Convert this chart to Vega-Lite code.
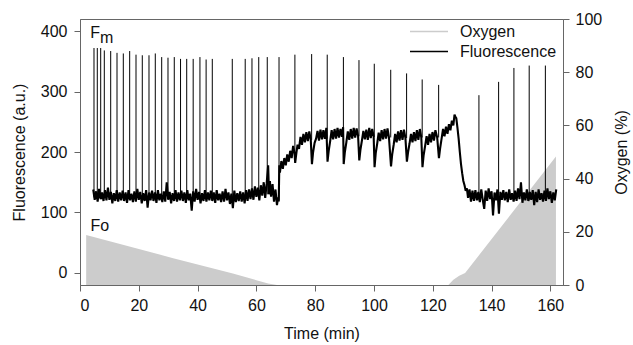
{
"$schema": "https://vega.github.io/schema/vega-lite/v6.json",
"width": 483, "height": 266,
"autosize": {"type": "none"},
"padding": {"left": 80, "top": 19, "right": 70, "bottom": 60},
"background": "white",
"config": {
  "view": {"stroke": "#666", "strokeWidth": 1},
  "font": "Liberation Sans",
  "axis": {"grid": false, "domainColor": "#666", "tickColor": "#666", "tickSize": 6, "labelFontSize": 16, "labelFont": "Liberation Sans", "labelColor": "#111", "titleFontSize": 16, "titleFont": "Liberation Sans", "titleFontWeight": "normal", "titleColor": "#111", "labelPadding": 6},
  "legend": {"orient": "none", "legendX": 341, "legendY": 4.5, "padding": 0, "symbolType": "M-3.8,0H3.8", "symbolSize": 100, "labelFontSize": 16, "labelFont": "Liberation Sans", "labelColor": "#111", "labelOffset": 23, "rowPadding": 4}
},
"datasets": {
  "oxygen": [
    {"t": 2.1, "o": 18.8}, {"t": 31.7, "o": 10.1}, {"t": 52, "o": 4.3}, {"t": 60, "o": 1.8}, {"t": 64, "o": 0.6}, {"t": 67, "o": 0},
    {"t": 125.3, "o": 0}, {"t": 127, "o": 2.0}, {"t": 129, "o": 3.5}, {"t": 131, "o": 4.5}, {"t": 161.9, "o": 48.3}
  ],
  "fluo": [
    {"t":4.5,"f":138},{"t":5.0,"f":121},{"t":5.5,"f":135},{"t":6.0,"f":118},{"t":6.5,"f":139},{"t":7.0,"f":122},{"t":7.5,"f":133},{"t":8.0,"f":119},{"t":8.5,"f":137},{"t":9.0,"f":120},
    {"t":9.5,"f":141},{"t":10.0,"f":121},{"t":10.5,"f":134},{"t":11.0,"f":115},{"t":11.5,"f":132},{"t":12.0,"f":119},{"t":12.5,"f":137},{"t":13.0,"f":118},{"t":13.5,"f":133},{"t":14.0,"f":120},
    {"t":14.5,"f":136},{"t":15.0,"f":119},{"t":15.5,"f":133},{"t":16.0,"f":116},{"t":16.5,"f":137},{"t":17.0,"f":120},{"t":17.5,"f":131},{"t":18.0,"f":117},{"t":18.5,"f":135},{"t":19.0,"f":118},
    {"t":19.5,"f":139},{"t":20.0,"f":121},{"t":20.5,"f":134},{"t":21.0,"f":115},{"t":21.5,"f":132},{"t":22.0,"f":119},{"t":22.5,"f":137},{"t":23.0,"f":108},{"t":23.5,"f":133},{"t":24.0,"f":120},
    {"t":24.5,"f":136},{"t":25.0,"f":119},{"t":25.5,"f":133},{"t":26.0,"f":116},{"t":26.5,"f":137},{"t":27.0,"f":120},{"t":27.5,"f":131},{"t":28.0,"f":117},{"t":28.5,"f":135},{"t":29.0,"f":118},
    {"t":29.5,"f":150},{"t":30.0,"f":121},{"t":30.5,"f":134},{"t":31.0,"f":115},{"t":31.5,"f":132},{"t":32.0,"f":119},{"t":32.5,"f":137},{"t":33.0,"f":118},{"t":33.5,"f":133},{"t":34.0,"f":120},
    {"t":34.5,"f":136},{"t":35.0,"f":119},{"t":35.5,"f":133},{"t":36.0,"f":116},{"t":36.5,"f":137},{"t":37.0,"f":120},{"t":37.5,"f":131},{"t":38.0,"f":103},{"t":38.5,"f":135},{"t":39.0,"f":118},
    {"t":39.5,"f":139},{"t":40.0,"f":121},{"t":40.5,"f":134},{"t":41.0,"f":115},{"t":41.5,"f":132},{"t":42.0,"f":119},{"t":42.5,"f":137},{"t":43.0,"f":118},{"t":43.5,"f":133},{"t":44.0,"f":120},
    {"t":44.5,"f":136},{"t":45.0,"f":119},{"t":45.5,"f":133},{"t":46.0,"f":116},{"t":46.5,"f":137},{"t":47.0,"f":120},{"t":47.5,"f":131},{"t":48.0,"f":117},{"t":48.5,"f":135},{"t":49.0,"f":118},
    {"t":49.5,"f":139},{"t":50.0,"f":120},{"t":50.5,"f":133},{"t":51.0,"f":114},{"t":51.5,"f":131},{"t":52.0,"f":107},{"t":52.5,"f":136},{"t":53.0,"f":117},{"t":53.5,"f":132},{"t":54.0,"f":119},
    {"t":54.5,"f":135},{"t":55.0,"f":118},{"t":55.5,"f":133},{"t":56.0,"f":115},{"t":56.5,"f":137},{"t":57.0,"f":119},{"t":57.5,"f":138},{"t":58.0,"f":122},{"t":58.5,"f":140},{"t":59.0,"f":121},
    {"t":59.5,"f":143},{"t":60.0,"f":126},{"t":60.5,"f":141},{"t":61.0,"f":120},{"t":61.5,"f":145},{"t":62.0,"f":128},{"t":62.5,"f":150},{"t":63.0,"f":124},{"t":63.5,"f":148},{"t":64.0,"f":178},
    {"t":64.3,"f":130},{"t":64.6,"f":152},{"t":65.0,"f":126},{"t":65.5,"f":147},{"t":66.0,"f":118},{"t":66.5,"f":138},{"t":67.0,"f":112},{"t":67.4,"f":125},{"t":67.6,"f":118},{"t":67.8,"f":178},
    {"t":68.0,"f":166},{"t":68.5,"f":185},{"t":69.0,"f":172},{"t":69.5,"f":190},{"t":70.0,"f":178},{"t":70.5,"f":196},{"t":71.0,"f":184},{"t":71.5,"f":202},{"t":72.0,"f":190},{"t":72.5,"f":210},
    {"t":73.0,"f":197},{"t":73.2,"f":182},{"t":73.6,"f":198},{"t":74.0,"f":212},{"t":74.5,"f":205},{"t":75.0,"f":225},{"t":75.5,"f":212},{"t":76.0,"f":230},{"t":76.5,"f":216},{"t":77.0,"f":233},
    {"t":77.5,"f":218},{"t":78.0,"f":234},{"t":78.5,"f":220},{"t":78.9,"f":180},{"t":79.3,"f":200},{"t":79.8,"f":215},{"t":80.3,"f":222},{"t":80.8,"f":235},{"t":81.3,"f":219},{"t":81.8,"f":237},
    {"t":82.3,"f":221},{"t":82.8,"f":236},{"t":83.3,"f":222},{"t":83.8,"f":240},{"t":84.2,"f":184},{"t":84.6,"f":202},{"t":85.1,"f":218},{"t":85.6,"f":236},{"t":86.1,"f":221},{"t":86.6,"f":238},
    {"t":87.1,"f":222},{"t":87.6,"f":240},{"t":88.1,"f":224},{"t":88.6,"f":238},{"t":89.1,"f":225},{"t":89.5,"f":241},{"t":89.7,"f":180},{"t":90.1,"f":200},{"t":90.6,"f":216},{"t":91.1,"f":234},
    {"t":91.6,"f":220},{"t":92.1,"f":238},{"t":92.6,"f":222},{"t":93.1,"f":240},{"t":93.6,"f":224},{"t":94.1,"f":239},{"t":94.6,"f":226},{"t":95.0,"f":186},{"t":95.4,"f":204},{"t":95.9,"f":219},
    {"t":96.4,"f":235},{"t":96.9,"f":221},{"t":97.4,"f":237},{"t":97.9,"f":220},{"t":98.4,"f":240},{"t":98.9,"f":223},{"t":99.4,"f":238},{"t":99.9,"f":225},{"t":100.2,"f":175},{"t":100.6,"f":198},
    {"t":101.1,"f":214},{"t":101.6,"f":232},{"t":102.1,"f":218},{"t":102.6,"f":236},{"t":103.1,"f":221},{"t":103.6,"f":238},{"t":104.1,"f":222},{"t":104.6,"f":239},{"t":105.1,"f":224},{"t":105.8,"f":176},
    {"t":106.2,"f":196},{"t":106.7,"f":212},{"t":107.2,"f":230},{"t":107.7,"f":216},{"t":108.2,"f":234},{"t":108.7,"f":219},{"t":109.2,"f":236},{"t":109.7,"f":220},{"t":110.2,"f":237},{"t":110.7,"f":223},
    {"t":111.2,"f":184},{"t":111.6,"f":200},{"t":112.1,"f":214},{"t":112.6,"f":230},{"t":113.1,"f":216},{"t":113.6,"f":233},{"t":114.1,"f":218},{"t":114.6,"f":236},{"t":115.1,"f":220},{"t":115.6,"f":238},
    {"t":116.1,"f":224},{"t":116.5,"f":175},{"t":116.9,"f":195},{"t":117.4,"f":210},{"t":117.9,"f":226},{"t":118.4,"f":212},{"t":118.9,"f":230},{"t":119.4,"f":216},{"t":119.9,"f":233},{"t":120.4,"f":219},
    {"t":120.9,"f":236},{"t":121.5,"f":224},{"t":122.1,"f":190},{"t":122.5,"f":206},{"t":123.0,"f":222},{"t":123.5,"f":238},{"t":124.0,"f":226},{"t":124.5,"f":242},{"t":125.0,"f":230},{"t":125.5,"f":246},
    {"t":126.0,"f":236},{"t":126.5,"f":252},{"t":127.0,"f":244},{"t":127.4,"f":262},{"t":127.7,"f":258},{"t":128.0,"f":256},{"t":128.4,"f":240},{"t":128.8,"f":222},{"t":129.2,"f":200},{"t":129.6,"f":180},
    {"t":130.0,"f":165},{"t":130.4,"f":152},{"t":130.8,"f":145},{"t":131.2,"f":136},{"t":131.6,"f":140},{"t":132.0,"f":124},{"t":132.5,"f":138},{"t":133.0,"f":118},{"t":133.5,"f":136},{"t":134.0,"f":119},
    {"t":134.5,"f":137},{"t":135.0,"f":120},{"t":135.5,"f":134},{"t":136.0,"f":117},{"t":136.5,"f":138},{"t":137.0,"f":121},{"t":137.5,"f":106},{"t":138.0,"f":136},{"t":138.5,"f":119},{"t":139.0,"f":140},
    {"t":139.5,"f":122},{"t":140.0,"f":135},{"t":140.5,"f":95},{"t":141.0,"f":133},{"t":141.5,"f":120},{"t":142.0,"f":138},{"t":142.5,"f":98},{"t":143.0,"f":134},{"t":143.5,"f":121},{"t":144.0,"f":137},
    {"t":144.5,"f":120},{"t":145.0,"f":134},{"t":145.5,"f":117},{"t":146.0,"f":138},{"t":146.5,"f":121},{"t":147.0,"f":132},{"t":147.5,"f":118},{"t":148.0,"f":136},{"t":148.5,"f":119},{"t":149.0,"f":140},
    {"t":149.5,"f":122},{"t":150.0,"f":150},{"t":150.5,"f":116},{"t":151.0,"f":133},{"t":151.5,"f":120},{"t":152.0,"f":138},{"t":152.5,"f":119},{"t":153.0,"f":134},{"t":153.5,"f":121},{"t":154.0,"f":137},
    {"t":154.5,"f":112},{"t":155.0,"f":134},{"t":155.5,"f":117},{"t":156.0,"f":138},{"t":156.5,"f":121},{"t":157.0,"f":132},{"t":157.5,"f":118},{"t":158.0,"f":136},{"t":158.5,"f":119},{"t":159.0,"f":140},
    {"t":159.5,"f":122},{"t":160.0,"f":135},{"t":160.5,"f":116},{"t":161.0,"f":133},{"t":161.5,"f":120},{"t":162.0,"f":138}
  ],
  "spikes": [
    {"t":4.76,"lo":125,"hi":372},{"t":5.88,"lo":125,"hi":372},{"t":7.04,"lo":125,"hi":372},{"t":8.27,"lo":125,"hi":368},{"t":10.44,"lo":125,"hi":367},
    {"t":12.59,"lo":125,"hi":364},{"t":14.73,"lo":125,"hi":363},{"t":16.9,"lo":125,"hi":367},{"t":19.05,"lo":125,"hi":361},{"t":21.19,"lo":125,"hi":360},
    {"t":23.47,"lo":125,"hi":360},{"t":25.61,"lo":125,"hi":363},{"t":27.79,"lo":125,"hi":357},{"t":29.93,"lo":125,"hi":356},{"t":32.07,"lo":125,"hi":357},
    {"t":34.2,"lo":125,"hi":354},{"t":36.3,"lo":125,"hi":354},{"t":38.5,"lo":125,"hi":354},{"t":40.8,"lo":125,"hi":357},{"t":42.9,"lo":125,"hi":353},
    {"t":45.0,"lo":125,"hi":354},{"t":51.8,"lo":125,"hi":354},{"t":56.2,"lo":125,"hi":354},{"t":58.5,"lo":125,"hi":355},{"t":60.8,"lo":125,"hi":357},
    {"t":63.7,"lo":130,"hi":357},{"t":67.7,"lo":120,"hi":357},{"t":73.1,"lo":200,"hi":361},{"t":78.8,"lo":220,"hi":362},{"t":84.1,"lo":222,"hi":361},
    {"t":89.6,"lo":225,"hi":357},{"t":94.9,"lo":226,"hi":352},{"t":100.1,"lo":225,"hi":346},{"t":105.7,"lo":224,"hi":336},{"t":111.1,"lo":223,"hi":330},
    {"t":116.4,"lo":224,"hi":320},{"t":122.0,"lo":224,"hi":311},{"t":135.7,"lo":120,"hi":294},{"t":142.4,"lo":120,"hi":316},{"t":147.6,"lo":120,"hi":339},
    {"t":152.8,"lo":120,"hi":343},{"t":158.3,"lo":120,"hi":343}
  ],
  "labels": [
    {"t": 3.5, "f": 388, "label": "F"},
    {"t": 6.8, "f": 381, "label": "m"},
    {"t": 3.6, "f": 69, "label": "Fo"}
  ]
},
"layer": [
  {
    "data": {"name": "oxygen"},
    "mark": {"type": "area", "color": "#cbcbcb", "opacity": 1},
    "encoding": {
      "x": {"field": "t", "type": "quantitative", "scale": {"domain": [0, 164.3], "nice": false, "zero": false}, "axis": {"title": "Time (min)", "values": [0, 20, 40, 60, 80, 100, 120, 140, 160], "titlePadding": 12}},
      "y": {"field": "o", "type": "quantitative", "scale": {"domain": [0, 100], "nice": false, "zero": false}, "axis": {"orient": "right", "title": "Oxygen (%)", "values": [0, 20, 40, 60, 80, 100], "titleAngle": 270, "titlePadding": 28, "labelPadding": 6}},
      "color": {"datum": "Oxygen", "type": "nominal", "scale": {"domain": ["Oxygen", "Fluorescence"], "range": ["#cccccc", "#000000"]},
        "legend": {"title": null, "encode": {"symbols": {
          "stroke": {"value": {"expr": "datum.value === 'Oxygen' ? '#cccccc' : '#000000'"}},
          "strokeWidth": {"value": {"expr": "datum.value === 'Oxygen' ? 7 : 1.3"}},
          "fill": {"value": "transparent"},
          "strokeCap": {"value": "butt"}}}}}
    }
  },
  {
    "layer": [
      {
        "data": {"name": "fluo"},
        "mark": {"type": "line", "strokeWidth": 2.1, "strokeJoin": "bevel", "interpolate": "linear"},
        "encoding": {
          "x": {"field": "t", "type": "quantitative", "scale": {"domain": [0, 164.3], "nice": false, "zero": false}, "axis": {"title": "Time (min)", "values": [0, 20, 40, 60, 80, 100, 120, 140, 160], "titlePadding": 12}},
          "y": {"field": "f", "type": "quantitative", "scale": {"domain": [-20, 420], "nice": false, "zero": false}, "axis": {"orient": "left", "title": "Fluorescence (a.u.)", "values": [0, 100, 200, 300, 400], "titlePadding": 13, "labelPadding": 7}},
          "color": {"datum": "Fluorescence", "type": "nominal"}
        }
      },
      {
        "data": {"name": "spikes"},
        "mark": {"type": "rule", "color": "#000000", "strokeWidth": 1},
        "encoding": {
          "x": {"field": "t", "type": "quantitative"},
          "y": {"field": "lo", "type": "quantitative", "axis": {"orient": "left", "title": "Fluorescence (a.u.)", "values": [0, 100, 200, 300, 400], "titlePadding": 13, "labelPadding": 7}},
          "y2": {"field": "hi"}
        }
      },
      {
        "data": {"name": "labels"},
        "mark": {"type": "text", "align": "left", "baseline": "alphabetic", "fontSize": 16, "font": "Liberation Sans", "color": "#111"},
        "encoding": {
          "x": {"field": "t", "type": "quantitative"},
          "y": {"field": "f", "type": "quantitative", "axis": {"orient": "left", "title": "Fluorescence (a.u.)", "values": [0, 100, 200, 300, 400], "titlePadding": 13, "labelPadding": 7}},
          "text": {"field": "label"}
        }
      }
    ]
  }
],
"resolve": {"scale": {"y": "independent"}}
}
